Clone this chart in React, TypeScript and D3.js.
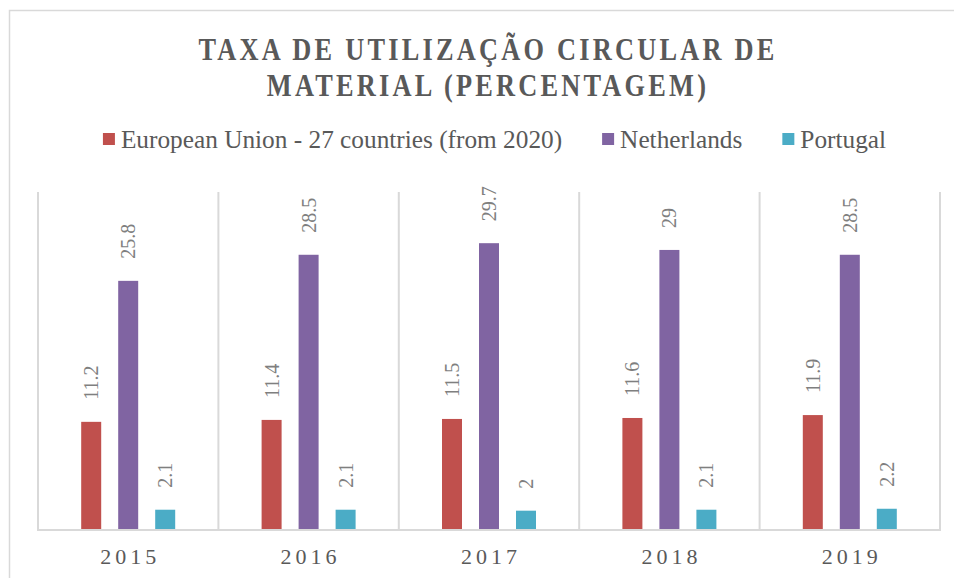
import React, { useRef, useEffect } from 'react';
import * as d3 from 'd3';

// chart data
const years = ['2015', '2016', '2017', '2018', '2019'];
const seriesNames = ['European Union - 27 countries (from 2020)', 'Netherlands', 'Portugal'];
const euValues = [11.2, 11.4, 11.5, 11.6, 11.9];
const nlValues = [25.8, 28.5, 29.7, 29, 28.5];
const ptValues = [2.1, 2.1, 2, 2.1, 2.2];
const seriesColors = ['#C0504D', '#8064A2', '#4BACC6'];
const titleLines = ['TAXA DE UTILIZAÇÃO CIRCULAR DE', 'MATERIAL (PERCENTAGEM)'];

const App = () => {
  const svgRef = useRef<SVGSVGElement>(null);

  useEffect(() => {
    const width = 954;
    const height = 578;
    const plot = { left: 38, right: 940, top: 192, bottom: 530 };
    const serif = "'Liberation Serif', 'DejaVu Serif', serif";

    const svg = d3.select(svgRef.current);
    svg.selectAll('*').remove();
    svg.attr('width', width).attr('height', height);

    svg.append('rect').attr('width', width).attr('height', height).attr('fill', '#fff');

    // outer chart border (cut off on right and bottom)
    svg.append('path')
      .attr('d', `M9.5,${height + 5} V10.5 H${width + 5}`)
      .attr('fill', 'none')
      .attr('stroke', '#d9d9d9')
      .attr('stroke-width', 1.5);

    // title, squeezed horizontally to look condensed
    const sx = 0.85;
    const title = svg.append('text')
      .attr('transform', `translate(488,0) scale(${sx},1)`)
      .attr('text-anchor', 'middle')
      .attr('font-family', serif)
      .attr('font-weight', 'bold')
      .attr('font-size', 31)
      .attr('letter-spacing', 3.8)
      .attr('fill', '#595959');
    titleLines.forEach((line, i) => {
      title.append('tspan')
        .attr('x', 0)
        .attr('y', 60 + i * 36)
        .text(line);
    });

    // legend
    const legend = svg.append('g');
    const items = seriesNames.map((name, i) => {
      const g = legend.append('g');
      g.append('rect')
        .attr('y', 133)
        .attr('width', 12)
        .attr('height', 12)
        .attr('fill', seriesColors[i]);
      const t = g.append('text')
        .attr('x', 18)
        .attr('y', 148)
        .attr('font-family', serif)
        .attr('font-size', 25.3)
        .attr('fill', '#595959')
        .text(name);
      const w = (t.node() as SVGTextElement).getComputedTextLength();
      return { g, w: 18 + w };
    });
    const gap = 40;
    const total = d3.sum(items, d => d.w) + gap * (items.length - 1);
    let lx = 494.5 - total / 2;
    items.forEach(it => {
      it.g.attr('transform', `translate(${lx},0)`);
      lx += it.w + gap;
    });

    // scales
    const x = d3.scaleBand().domain(years).range([plot.left, plot.right]).padding(0);
    const y = d3.scaleLinear().domain([0, 35]).range([plot.bottom, plot.top]);
    const barW = 20;
    const step = 37;

    // vertical gridlines at category boundaries
    const bounds = years.map(d => x(d) as number).concat([plot.right]);
    svg.append('g')
      .selectAll('line')
      .data(bounds)
      .enter().append('line')
      .attr('x1', d => d)
      .attr('x2', d => d)
      .attr('y1', plot.top)
      .attr('y2', plot.bottom)
      .attr('stroke', '#d9d9d9')
      .attr('stroke-width', 2);

    // bars + labels
    const allSeries = [euValues, nlValues, ptValues];
    allSeries.forEach((vals, si) => {
      const data = years.map((yr, i) => ({ yr, v: vals[i] }));
      const cx = (d: { yr: string }) => (x(d.yr) as number) + x.bandwidth() / 2 + (si - 1) * step;

      svg.append('g')
        .selectAll('rect')
        .data(data)
        .enter().append('rect')
        .attr('x', d => cx(d) - barW / 2)
        .attr('y', d => y(d.v))
        .attr('width', barW)
        .attr('height', d => plot.bottom - y(d.v))
        .attr('fill', seriesColors[si]);

      svg.append('g')
        .selectAll('text')
        .data(data)
        .enter().append('text')
        .attr('transform', d => `translate(${cx(d)},${y(d.v) - 22}) rotate(-90)`)
        .attr('dominant-baseline', 'central')
        .attr('font-family', serif)
        .attr('font-size', 20)
        .attr('fill', '#7f7f7f')
        .text(d => String(d.v));
    });

    // baseline
    svg.append('line')
      .attr('x1', plot.left - 1)
      .attr('x2', plot.right + 1)
      .attr('y1', plot.bottom)
      .attr('y2', plot.bottom)
      .attr('stroke', '#d9d9d9')
      .attr('stroke-width', 2);

    // x axis labels
    svg.append('g')
      .selectAll('text')
      .data(years)
      .enter().append('text')
      .attr('x', d => (x(d) as number) + x.bandwidth() / 2 + 2)
      .attr('y', 564)
      .attr('text-anchor', 'middle')
      .attr('font-family', serif)
      .attr('font-size', 22)
      .attr('letter-spacing', 4)
      .attr('fill', '#595959')
      .text(d => d);
  }, []);

  return (
    <svg ref={svgRef} style={{ position: 'absolute', left: 0, top: 0 }}></svg>
  );
};

export default App;
